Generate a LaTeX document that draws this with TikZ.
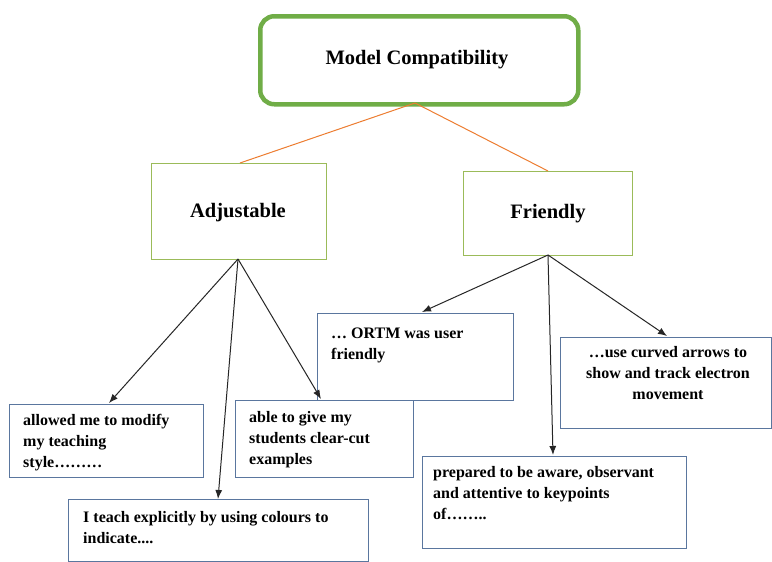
\documentclass[tikz,border=0pt]{standalone}
\usepackage{fontspec}
\setmainfont{Liberation Serif}
\usetikzlibrary{arrows.meta}
\definecolor{topgreen}{HTML}{70AD47}
\definecolor{midgreen}{HTML}{9BBB59}
\definecolor{linkorange}{HTML}{ED7D31}
\definecolor{leafblue}{HTML}{5A769E}
\tikzset{
  topbox/.style={draw=topgreen, line width=4.5pt, rounded corners=14pt, fill=white, inner sep=0pt},
  midbox/.style={draw=midgreen, line width=1.3pt, fill=white, inner sep=0pt},
  leafbox/.style={draw=leafblue, line width=1.3pt, fill=white, inner sep=0pt},
  titletext/.style={font=\fontsize{20.5}{24}\selectfont\bfseries, inner sep=0pt},
  leaftext/.style={font=\fontsize{16}{21}\selectfont\bfseries, inner sep=0pt, align=left, anchor=north west},
  ctrtext/.style={font=\fontsize{16}{21}\selectfont\bfseries, inner sep=0pt, align=center, anchor=north},
  link/.style={draw=linkorange, line width=1pt},
  arr/.style={draw=black!85, line width=1pt, -{Latex[length=9pt,width=7pt]}}
}
\begin{document}
\begin{tikzpicture}[x=1pt,y=-1pt]
\useasboundingbox[fill=white] (0,0) rectangle (772,562);
% boxes
\node[topbox, minimum width=318pt, minimum height=88pt, anchor=north west] (top) at (258,14) {};
\node[titletext] (toptxt) at (417,60) {Model Compatibility};
\node[midbox, minimum width=175pt, minimum height=96pt, anchor=north west] (adj) at (151,163) {};
\node[titletext] (adjtxt) at (238,213) {Adjustable};
\node[midbox, minimum width=169pt, minimum height=84pt, anchor=north west] (fri) at (463,171) {};
\node[titletext] (fritxt) at (548,214) {Friendly};
% leaf boxes
\node[leafbox, minimum width=194pt, minimum height=73pt, anchor=north west] (l1) at (9,404) {};
\node[leaftext] (l1t) at (23,414) {allowed me to modify\\my teaching\\style………};
\node[leafbox, minimum width=300pt, minimum height=62pt, anchor=north west] (l2) at (68,499) {};
\node[leaftext] (l2t) at (83,511) {I teach explicitly by using colours to\\indicate....};
\node[leafbox, minimum width=178pt, minimum height=77pt, anchor=north west] (l3) at (235,400) {};
\node[leaftext] (l3t) at (249,411) {able to give my\\students clear-cut\\examples};
\node[leafbox, minimum width=196pt, minimum height=87pt, anchor=north west] (r1) at (317,313) {};
\node[leaftext] (r1t) at (331,328) {… ORTM was user\\friendly};
\node[leafbox, minimum width=211pt, minimum height=91pt, anchor=north west] (r2) at (560,337) {};
\node[ctrtext] (r2t) at (668,346) {…use curved arrows to\\show and track electron\\movement};
\node[leafbox, minimum width=264pt, minimum height=92pt, anchor=north west] (r3) at (422,456) {};
\node[leaftext] (r3t) at (433,466) {prepared to be aware, observant\\and attentive to keypoints\\of……..};
% coordinates
\coordinate (tb) at (415,103);
\coordinate (ab) at (238,259);
\coordinate (fb) at (548,255);
% orange links
\draw[link] (tb) -- (adj.north -| 240,0);
\draw[link] (tb) -- (fri.north -| 548,0);
% arrows
\draw[arr] (ab) -- (109,403);
\draw[arr] (ab) -- (218,499);
\draw[arr] (ab) -- (321,399);
\draw[arr] (fb) -- (422,312);
\draw[arr] (fb) -- (553,455);
\draw[arr] (fb) -- (667,336);
\end{tikzpicture}
\end{document}
